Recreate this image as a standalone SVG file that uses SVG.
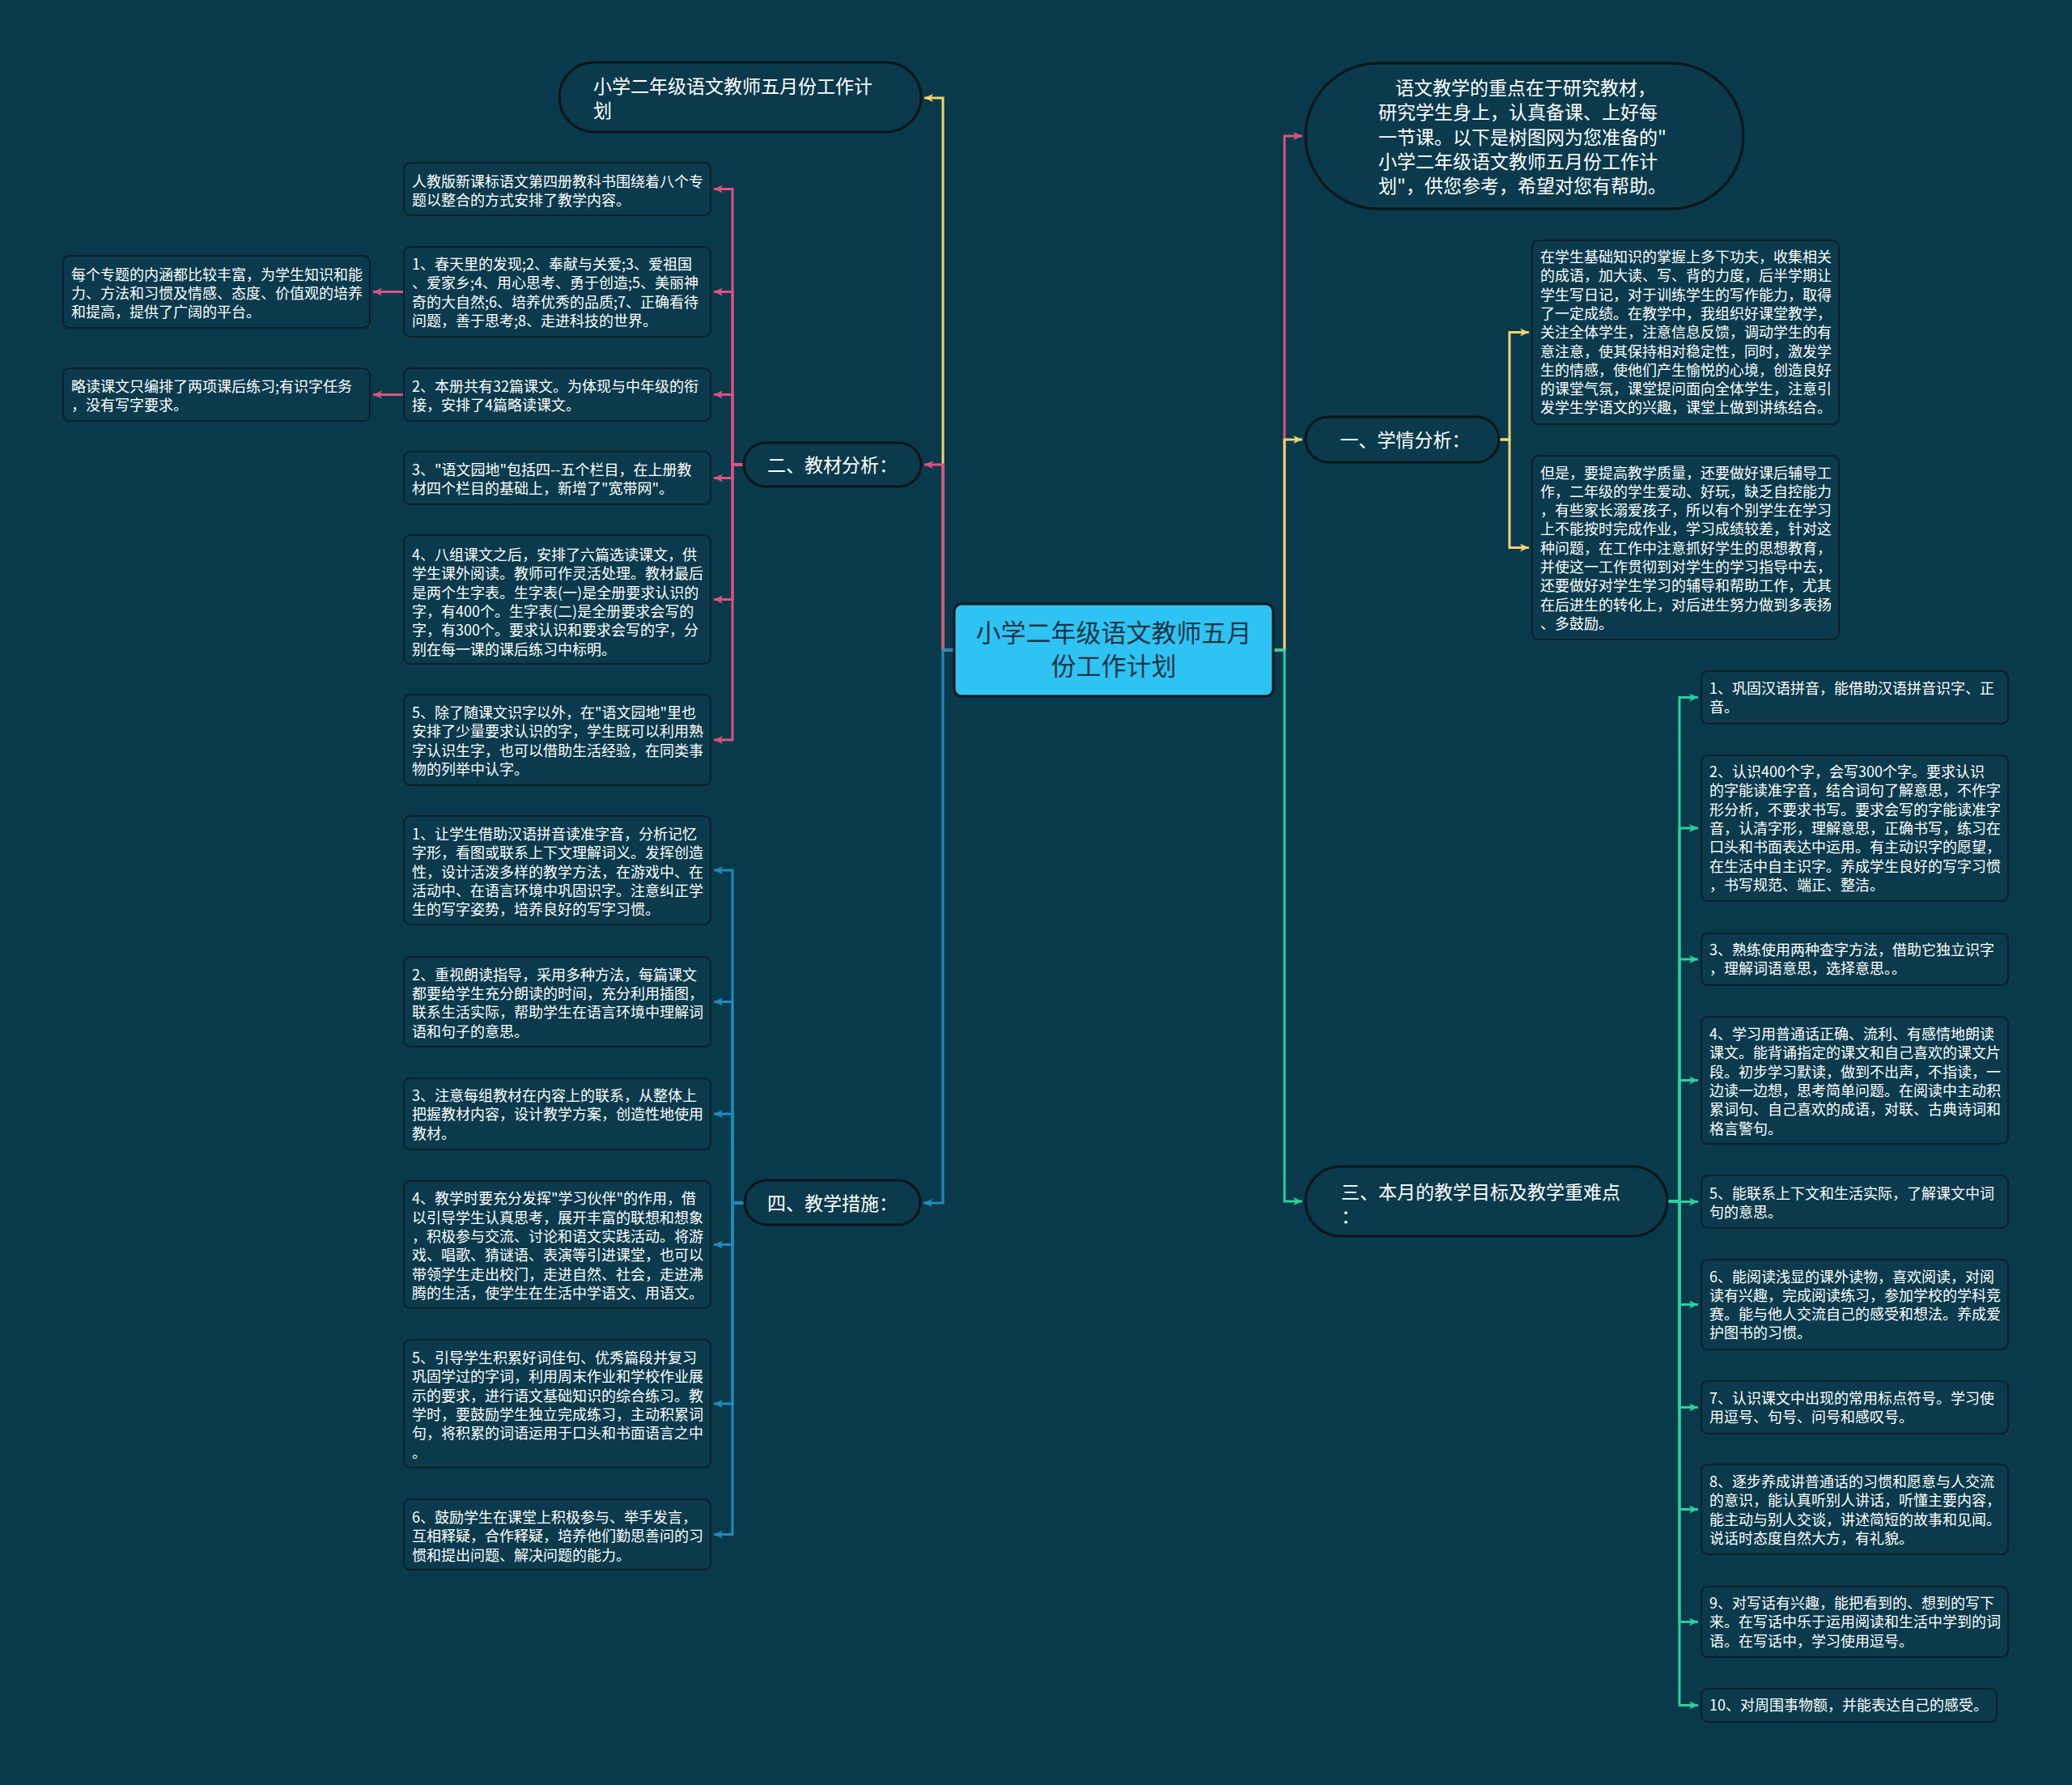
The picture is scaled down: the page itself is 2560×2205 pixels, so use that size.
<svg xmlns="http://www.w3.org/2000/svg" width="2560" height="2205" viewBox="0 0 2560 2205">
<defs>
<style>
.bg{fill:#093a4c}
.leaf rect{fill:#0a3a4c;stroke:#0c1f28;stroke-width:2}
.leaf text{font-family:"Noto Sans CJK SC","Noto Sans",sans-serif;font-size:18px;fill:#ffffff}
.pill rect{fill:#0a3a4c;stroke:#0b151a;stroke-width:3}
.pill text{font-family:"Noto Sans CJK SC","Noto Sans",sans-serif;font-size:23px;fill:#ffffff}
.root rect{fill:#2ec3f2;stroke:#0b151a;stroke-width:3}
.root text{font-family:"Noto Sans CJK SC","Noto Sans",sans-serif;font-size:31px;fill:#173447;text-anchor:middle}
.c{fill:none;stroke-width:3}
.pk{stroke:#e0527c}
.yl{stroke:#f2d46e}
.bl{stroke:#1e8cbd}
.gn{stroke:#2bd09e}
</style>
<marker id="aPk" markerUnits="userSpaceOnUse" markerWidth="12" markerHeight="12" refX="11" refY="5" orient="auto"><path d="M0,0 L11,5 L0,10 L3,5 z" fill="#e0527c"/></marker>
<marker id="aYl" markerUnits="userSpaceOnUse" markerWidth="12" markerHeight="12" refX="11" refY="5" orient="auto"><path d="M0,0 L11,5 L0,10 L3,5 z" fill="#f2d46e"/></marker>
<marker id="aBl" markerUnits="userSpaceOnUse" markerWidth="12" markerHeight="12" refX="11" refY="5" orient="auto"><path d="M0,0 L11,5 L0,10 L3,5 z" fill="#1e8cbd"/></marker>
<marker id="aGn" markerUnits="userSpaceOnUse" markerWidth="12" markerHeight="12" refX="11" refY="5" orient="auto"><path d="M0,0 L11,5 L0,10 L3,5 z" fill="#2bd09e"/></marker>
</defs>
<rect class="bg" x="0" y="0" width="2560" height="2205"/>

<g id="connectors">
<path class="c yl" marker-end="url(#aYl)" d="M1179,803 H1165 V121 H1142"/>
<path class="c pk" marker-end="url(#aPk)" d="M1179,803 H1165 V574 H1142"/>
<path class="c bl" marker-end="url(#aBl)" d="M1179,803 H1165 V1486 H1141"/>
<path class="c pk" marker-end="url(#aPk)" d="M1573,803 H1587 V168 H1609"/>
<path class="c yl" marker-end="url(#aYl)" d="M1573,803 H1587 V543 H1609"/>
<path class="c gn" marker-end="url(#aGn)" d="M1573,803 H1587 V1484 H1609"/>

<path class="c pk" marker-end="url(#aPk)" d="M919,574 H905 V233.5 H882"/>
<path class="c pk" marker-end="url(#aPk)" d="M919,574 H905 V360.5 H882"/>
<path class="c pk" marker-end="url(#aPk)" d="M919,574 H905 V487.5 H882"/>
<path class="c pk" marker-end="url(#aPk)" d="M919,574 H905 V590.5 H882"/>
<path class="c pk" marker-end="url(#aPk)" d="M919,574 H905 V740.5 H882"/>
<path class="c pk" marker-end="url(#aPk)" d="M919,574 H905 V914 H882"/>
<path class="c pk" marker-end="url(#aPk)" d="M498,360.5 H461"/>
<path class="c pk" marker-end="url(#aPk)" d="M498,487.5 H461"/>

<path class="c bl" marker-end="url(#aBl)" d="M920,1486 H905 V1075 H882"/>
<path class="c bl" marker-end="url(#aBl)" d="M920,1486 H905 V1237.5 H882"/>
<path class="c bl" marker-end="url(#aBl)" d="M920,1486 H905 V1376 H882"/>
<path class="c bl" marker-end="url(#aBl)" d="M920,1486 H905 V1537.5 H882"/>
<path class="c bl" marker-end="url(#aBl)" d="M920,1486 H905 V1734 H882"/>
<path class="c bl" marker-end="url(#aBl)" d="M920,1486 H905 V1895.5 H882"/>

<path class="c yl" marker-end="url(#aYl)" d="M1852,543 H1865 V410.5 H1889"/>
<path class="c yl" marker-end="url(#aYl)" d="M1852,543 H1865 V676.5 H1889"/>

<path class="c gn" marker-end="url(#aGn)" d="M2060,1484 H2075 V861.5 H2098"/>
<path class="c gn" marker-end="url(#aGn)" d="M2060,1484 H2075 V1023 H2098"/>
<path class="c gn" marker-end="url(#aGn)" d="M2060,1484 H2075 V1185 H2098"/>
<path class="c gn" marker-end="url(#aGn)" d="M2060,1484 H2075 V1334.5 H2098"/>
<path class="c gn" marker-end="url(#aGn)" d="M2060,1484 H2075 V1484.5 H2098"/>
<path class="c gn" marker-end="url(#aGn)" d="M2060,1484 H2075 V1611.5 H2098"/>
<path class="c gn" marker-end="url(#aGn)" d="M2060,1484 H2075 V1738.5 H2098"/>
<path class="c gn" marker-end="url(#aGn)" d="M2060,1484 H2075 V1864.5 H2098"/>
<path class="c gn" marker-end="url(#aGn)" d="M2060,1484 H2075 V2003.5 H2098"/>
<path class="c gn" marker-end="url(#aGn)" d="M2060,1484 H2075 V2106.5 H2098"/>
</g>

<g id="root" class="root">
<rect x="1179" y="746" width="394" height="114" rx="9"/>
<text><tspan x="1376" y="793">小学二年级语文教师五月</tspan><tspan x="1376" y="834">份工作计划</tspan></text>
</g>

<g id="title" class="pill">
<rect x="691" y="77" width="447" height="86" rx="43"/>
<text><tspan x="733" y="115">小学二年级语文教师五月份工作计</tspan><tspan x="733" y="145">划</tspan></text>
</g>

<g id="intro" class="pill">
<rect x="1613" y="78" width="541" height="180" rx="90"/>
<text><tspan x="1724" y="117">语文教学的重点在于研究教材，</tspan><tspan x="1703" y="147">研究学生身上，认真备课、上好每</tspan><tspan x="1703" y="178">一节课。以下是树图网为您准备的"</tspan><tspan x="1703" y="208">小学二年级语文教师五月份工作计</tspan><tspan x="1703" y="238">划"，供您参考，希望对您有帮助。</tspan></text>
</g>

<g id="sec2" class="pill">
<rect x="919" y="547" width="219" height="54" rx="27"/>
<text x="1028.5" y="583" text-anchor="middle">二、教材分析：</text>
</g>

<g id="sec4" class="pill">
<rect x="920" y="1458" width="217" height="55" rx="27.5"/>
<text x="1028.5" y="1495" text-anchor="middle">四、教学措施：</text>
</g>

<g id="sec1" class="pill">
<rect x="1613" y="515" width="239" height="56" rx="28"/>
<text x="1736" y="552" text-anchor="middle">一、学情分析：</text>
</g>

<g id="sec3" class="pill">
<rect x="1613" y="1441" width="447" height="86" rx="43"/>
<text><tspan x="1657" y="1481">三、本月的教学目标及教学重难点</tspan><tspan x="1657" y="1511">：</tspan></text>
</g>

<g id="m2a" class="leaf">
<rect x="499" y="201" width="379" height="65" rx="8"/>
<text><tspan x="509" y="231">人教版新课标语文第四册教科书围绕着八个专</tspan><tspan x="509" y="254">题以整合的方式安排了教学内容。</tspan></text>
</g>
<g id="m2b" class="leaf">
<rect x="499" y="305" width="379" height="111" rx="8"/>
<text><tspan x="509" y="333">1、春天里的发现;2、奉献与关爱;3、爱祖国</tspan><tspan x="509" y="356.3">、爱家乡;4、用心思考、勇于创造;5、美丽神</tspan><tspan x="509" y="379.6">奇的大自然;6、培养优秀的品质;7、正确看待</tspan><tspan x="509" y="402.9">问题，善于思考;8、走进科技的世界。</tspan></text>
</g>
<g id="m2b1" class="leaf">
<rect x="78" y="316" width="379" height="89" rx="8"/>
<text><tspan x="88" y="345.6">每个专题的内涵都比较丰富，为学生知识和能</tspan><tspan x="88" y="368.9">力、方法和习惯及情感、态度、价值观的培养</tspan><tspan x="88" y="392.2">和提高，提供了广阔的平台。</tspan></text>
</g>
<g id="m2c" class="leaf">
<rect x="499" y="455" width="379" height="65" rx="8"/>
<text><tspan x="509" y="484">2、本册共有32篇课文。为体现与中年级的衔</tspan><tspan x="509" y="507.3">接，安排了4篇略读课文。</tspan></text>
</g>
<g id="m2c1" class="leaf">
<rect x="78" y="455" width="379" height="65" rx="8"/>
<text><tspan x="88" y="484">略读课文只编排了两项课后练习;有识字任务</tspan><tspan x="88" y="507.3">，没有写字要求。</tspan></text>
</g>
<g id="m2d" class="leaf">
<rect x="499" y="558" width="379" height="65" rx="8"/>
<text><tspan x="509" y="586.6">3、"语文园地"包括四--五个栏目，在上册教</tspan><tspan x="509" y="609.9">材四个栏目的基础上，新增了"宽带网"。</tspan></text>
</g>
<g id="m2e" class="leaf">
<rect x="499" y="661" width="379" height="159" rx="8"/>
<text><tspan x="509" y="692">4、八组课文之后，安排了六篇选读课文，供</tspan><tspan x="509" y="715.3">学生课外阅读。教师可作灵活处理。教材最后</tspan><tspan x="509" y="738.6">是两个生字表。生字表(一)是全册要求认识的</tspan><tspan x="509" y="761.9">字，有400个。生字表(二)是全册要求会写的</tspan><tspan x="509" y="785.2">字，有300个。要求认识和要求会写的字，分</tspan><tspan x="509" y="808.5">别在每一课的课后练习中标明。</tspan></text>
</g>
<g id="m2f" class="leaf">
<rect x="499" y="858" width="379" height="112" rx="8"/>
<text><tspan x="509" y="887">5、除了随课文识字以外，在"语文园地"里也</tspan><tspan x="509" y="910.3">安排了少量要求认识的字，学生既可以利用熟</tspan><tspan x="509" y="933.6">字认识生字，也可以借助生活经验，在同类事</tspan><tspan x="509" y="956.9">物的列举中认字。</tspan></text>
</g>

<g id="m4a" class="leaf">
<rect x="499" y="1008" width="379" height="134" rx="8"/>
<text><tspan x="509" y="1037">1、让学生借助汉语拼音读准字音，分析记忆</tspan><tspan x="509" y="1060.3">字形，看图或联系上下文理解词义。发挥创造</tspan><tspan x="509" y="1083.6">性，设计活泼多样的教学方法，在游戏中、在</tspan><tspan x="509" y="1106.9">活动中、在语言环境中巩固识字。注意纠正学</tspan><tspan x="509" y="1130.2">生的写字姿势，培养良好的写字习惯。</tspan></text>
</g>
<g id="m4b" class="leaf">
<rect x="499" y="1182" width="379" height="111" rx="8"/>
<text><tspan x="509" y="1210.6">2、重视朗读指导，采用多种方法，每篇课文</tspan><tspan x="509" y="1233.9">都要给学生充分朗读的时间，充分利用插图，</tspan><tspan x="509" y="1257.2">联系生活实际，帮助学生在语言环境中理解词</tspan><tspan x="509" y="1280.5">语和句子的意思。</tspan></text>
</g>
<g id="m4c" class="leaf">
<rect x="499" y="1332" width="379" height="88" rx="8"/>
<text><tspan x="509" y="1360">3、注意每组教材在内容上的联系，从整体上</tspan><tspan x="509" y="1383.3">把握教材内容，设计教学方案，创造性地使用</tspan><tspan x="509" y="1406.6">教材。</tspan></text>
</g>
<g id="m4d" class="leaf">
<rect x="499" y="1459" width="379" height="157" rx="8"/>
<text><tspan x="509" y="1487.4">4、教学时要充分发挥"学习伙伴"的作用，借</tspan><tspan x="509" y="1510.7">以引导学生认真思考，展开丰富的联想和想象</tspan><tspan x="509" y="1534">，积极参与交流、讨论和语文实践活动。将游</tspan><tspan x="509" y="1557.3">戏、唱歌、猜谜语、表演等引进课堂，也可以</tspan><tspan x="509" y="1580.6">带领学生走出校门，走进自然、社会，走进沸</tspan><tspan x="509" y="1603.9">腾的生活，使学生在生活中学语文、用语文。</tspan></text>
</g>
<g id="m4e" class="leaf">
<rect x="499" y="1655" width="379" height="158" rx="8"/>
<text><tspan x="509" y="1684">5、引导学生积累好词佳句、优秀篇段并复习</tspan><tspan x="509" y="1707.3">巩固学过的字词，利用周末作业和学校作业展</tspan><tspan x="509" y="1730.6">示的要求，进行语文基础知识的综合练习。教</tspan><tspan x="509" y="1753.9">学时，要鼓励学生独立完成练习，主动积累词</tspan><tspan x="509" y="1777.2">句，将积累的词语运用于口头和书面语言之中</tspan><tspan x="509" y="1800.5">。</tspan></text>
</g>
<g id="m4f" class="leaf">
<rect x="499" y="1852" width="379" height="87" rx="8"/>
<text><tspan x="509" y="1881">6、鼓励学生在课堂上积极参与、举手发言，</tspan><tspan x="509" y="1904.3">互相释疑，合作释疑，培养他们勤思善问的习</tspan><tspan x="509" y="1927.6">惯和提出问题、解决问题的能力。</tspan></text>
</g>

<g id="m1a" class="leaf">
<rect x="1893" y="297" width="379" height="227" rx="8"/>
<text><tspan x="1903" y="324">在学生基础知识的掌握上多下功夫，收集相关</tspan><tspan x="1903" y="347.3">的成语，加大读、写、背的力度，后半学期让</tspan><tspan x="1903" y="370.6">学生写日记，对于训练学生的写作能力，取得</tspan><tspan x="1903" y="393.9">了一定成绩。在教学中，我组织好课堂教学，</tspan><tspan x="1903" y="417.2">关注全体学生，注意信息反馈，调动学生的有</tspan><tspan x="1903" y="440.5">意注意，使其保持相对稳定性，同时，激发学</tspan><tspan x="1903" y="463.8">生的情感，使他们产生愉悦的心境，创造良好</tspan><tspan x="1903" y="487.1">的课堂气氛，课堂提问面向全体学生，注意引</tspan><tspan x="1903" y="510.4">发学生学语文的兴趣，课堂上做到讲练结合。</tspan></text>
</g>
<g id="m1b" class="leaf">
<rect x="1893" y="563" width="379" height="227" rx="8"/>
<text><tspan x="1903" y="590.5">但是，要提高教学质量，还要做好课后辅导工</tspan><tspan x="1903" y="613.8">作，二年级的学生爱动、好玩，缺乏自控能力</tspan><tspan x="1903" y="637.1">，有些家长溺爱孩子，所以有个别学生在学习</tspan><tspan x="1903" y="660.4">上不能按时完成作业，学习成绩较差，针对这</tspan><tspan x="1903" y="683.7">种问题，在工作中注意抓好学生的思想教育，</tspan><tspan x="1903" y="707">并使这一工作贯彻到对学生的学习指导中去，</tspan><tspan x="1903" y="730.3">还要做好对学生学习的辅导和帮助工作，尤其</tspan><tspan x="1903" y="753.6">在后进生的转化上，对后进生努力做到多表扬</tspan><tspan x="1903" y="776.9">、多鼓励。</tspan></text>
</g>

<g id="m3a" class="leaf">
<rect x="2102" y="829" width="379" height="65" rx="8"/>
<text><tspan x="2112" y="857">1、巩固汉语拼音，能借助汉语拼音识字、正</tspan><tspan x="2112" y="880.3">音。</tspan></text>
</g>
<g id="m3b" class="leaf">
<rect x="2102" y="933" width="379" height="180" rx="8"/>
<text><tspan x="2112" y="960">2、认识400个字，会写300个字。要求认识</tspan><tspan x="2112" y="983.3">的字能读准字音，结合词句了解意思，不作字</tspan><tspan x="2112" y="1006.6">形分析，不要求书写。要求会写的字能读准字</tspan><tspan x="2112" y="1029.9">音，认清字形，理解意思，正确书写，练习在</tspan><tspan x="2112" y="1053.2">口头和书面表达中运用。有主动识字的愿望，</tspan><tspan x="2112" y="1076.5">在生活中自主识字。养成学生良好的写字习惯</tspan><tspan x="2112" y="1099.8">，书写规范、端正、整洁。</tspan></text>
</g>
<g id="m3c" class="leaf">
<rect x="2102" y="1153" width="379" height="64" rx="8"/>
<text><tspan x="2112" y="1180">3、熟练使用两种查字方法，借助它独立识字</tspan><tspan x="2112" y="1203.3">，理解词语意思，选择意思。。</tspan></text>
</g>
<g id="m3d" class="leaf">
<rect x="2102" y="1256" width="379" height="157" rx="8"/>
<text><tspan x="2112" y="1284">4、学习用普通话正确、流利、有感情地朗读</tspan><tspan x="2112" y="1307.3">课文。能背诵指定的课文和自己喜欢的课文片</tspan><tspan x="2112" y="1330.6">段。初步学习默读，做到不出声，不指读，一</tspan><tspan x="2112" y="1353.9">边读一边想，思考简单问题。在阅读中主动积</tspan><tspan x="2112" y="1377.2">累词句、自己喜欢的成语，对联、古典诗词和</tspan><tspan x="2112" y="1400.5">格言警句。</tspan></text>
</g>
<g id="m3e" class="leaf">
<rect x="2102" y="1452" width="379" height="65" rx="8"/>
<text><tspan x="2112" y="1480.7">5、能联系上下文和生活实际，了解课文中词</tspan><tspan x="2112" y="1504">句的意思。</tspan></text>
</g>
<g id="m3f" class="leaf">
<rect x="2102" y="1556" width="379" height="111" rx="8"/>
<text><tspan x="2112" y="1583.5">6、能阅读浅显的课外读物，喜欢阅读，对阅</tspan><tspan x="2112" y="1606.8">读有兴趣，完成阅读练习，参加学校的学科竞</tspan><tspan x="2112" y="1630.1">赛。能与他人交流自己的感受和想法。养成爱</tspan><tspan x="2112" y="1653.4">护图书的习惯。</tspan></text>
</g>
<g id="m3g" class="leaf">
<rect x="2102" y="1706" width="379" height="65" rx="8"/>
<text><tspan x="2112" y="1733.5">7、认识课文中出现的常用标点符号。学习使</tspan><tspan x="2112" y="1756.8">用逗号、句号、问号和感叹号。</tspan></text>
</g>
<g id="m3h" class="leaf">
<rect x="2102" y="1809" width="379" height="111" rx="8"/>
<text><tspan x="2112" y="1837">8、逐步养成讲普通话的习惯和愿意与人交流</tspan><tspan x="2112" y="1860.3">的意识，能认真听别人讲话，听懂主要内容，</tspan><tspan x="2112" y="1883.6">能主动与别人交谈，讲述简短的故事和见闻。</tspan><tspan x="2112" y="1906.9">说话时态度自然大方，有礼貌。</tspan></text>
</g>
<g id="m3i" class="leaf">
<rect x="2102" y="1960" width="379" height="87" rx="8"/>
<text><tspan x="2112" y="1987">9、对写话有兴趣，能把看到的、想到的写下</tspan><tspan x="2112" y="2010.3">来。在写话中乐于运用阅读和生活中学到的词</tspan><tspan x="2112" y="2033.6">语。在写话中，学习使用逗号。</tspan></text>
</g>
<g id="m3j" class="leaf">
<rect x="2102" y="2086" width="365" height="41" rx="8"/>
<text><tspan x="2112" y="2113">10、对周围事物额，并能表达自己的感受。</tspan></text>
</g>
</svg>
